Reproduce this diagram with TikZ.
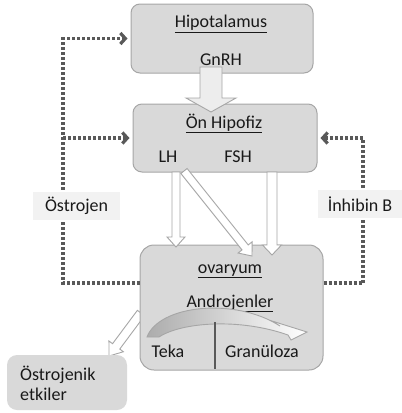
\documentclass[tikz,border=0pt]{standalone}
\usepackage{fontspec}
\setmainfont{Carlito}
\usetikzlibrary{arrows.meta,calc,positioning}

\definecolor{boxgray}{HTML}{D9D9D9}
\definecolor{edgegray}{HTML}{A6A6A6}
\definecolor{dotgray}{HTML}{595959}
\definecolor{labelgray}{HTML}{F2F2F2}
\definecolor{shaftgray}{HTML}{EDEDED}

% block arrow: [style]{from}{to}{half shaft}{half head}{head length}
\newcommand{\fatarrow}[6][]{%
  \coordinate (fa-base) at ($(#3)!#6!(#2)$);
  \draw[fatarr,#1] ($(#2)!#4!90:(#3)$) -- ($(fa-base)!#4!-90:(#2)$)
    -- ($(fa-base)!#5!-90:(#2)$) -- (#3) -- ($(fa-base)!#5!90:(#2)$)
    -- ($(fa-base)!#4!90:(#2)$) -- ($(#2)!#4!-90:(#3)$) -- cycle;
}

\begin{document}
\begin{tikzpicture}[
    x = 1pt, y = -1pt, % pixel grid, y pointing down
    > = {Straight Barb[length=5pt,width=11pt]}, % arrow head style
    shorten > = 3pt, % don't touch arrow head to box
    font = \fontsize{18}{20}\selectfont,
    every node/.style = {text = black!90}
  ]

  \tikzstyle{organ} = [
      draw = edgegray,
      fill = boxgray,
      line width = 1pt,
      rounded corners = 9pt
  ]
  \tikzstyle{lbl} = [
      anchor = base,
      inner sep = 0pt
  ]
  \tikzstyle{fatarr} = [
      draw = edgegray,
      fill = shaftgray,
      line width = 0.9pt,
      line join = miter
  ]
  \tikzstyle{feedback} = [
      draw = dotgray,
      line width = 3.2pt,
      dash pattern = on 3pt off 2pt
  ]
  \tikzstyle{fblabel} = [
      fill = labelgray,
      minimum height = 28pt,
      inner sep = 0pt
  ]

  \useasboundingbox (0,0) rectangle (402,413);

  % boxes
  \node[organ, minimum width=182pt, minimum height=69pt] (hipo) at (222,38.5) {};
  \node[organ, minimum width=184pt, minimum height=68pt] (hipof) at (225,138) {};

  % to the estrogenic effects (behind the ovary)
  \coordinate (ostS) at (141,313);
  \coordinate (ostE) at (109,356);
  \fatarrow[fill=white]{ostS}{ostE}{4.5pt}{9pt}{12pt}

  \node[organ, minimum width=183pt, minimum height=125pt, rounded corners=14pt] (ovar) at (231.5,307.5) {};
  \node[organ, draw=none, minimum width=120pt, minimum height=55pt, rounded corners=10pt] (effect) at (67,382.5) {};

  % texts
  \node[lbl] (hipoT) at (221,27.5) {\underline{Hipotalamus}};
  \node[lbl] (gnrh) at (221,65) {GnRH};
  \node[lbl] (hipofT) at (224,128) {\underline{Ön Hipofiz}};
  \node[lbl] (lh) at (168,162) {LH};
  \node[lbl] (fsh) at (238,162) {FSH};
  \node[lbl] (ovarT) at (230,273) {\underline{ovaryum}};
  \node[lbl] (andr) at (230,307) {\underline{Androjenler}};
  \node[lbl] (teka) at (168,357) {Teka};
  \node[lbl] (gran) at (262,357) {Granüloza};
  \node[anchor=north west, inner sep=0pt, align=left] (effectT) at (20,366) {Östrojenik\\etkiler};

  % hormone arrows
  \coordinate (gnrhS) at (211,67);
  \coordinate (gnrhE) at (211,112);
  \fatarrow{gnrhS}{gnrhE}{11pt}{25pt}{14pt}
  \coordinate (lhS) at (176,172);
  \coordinate (lhE) at (176,247);
  \fatarrow[fill=white]{lhS}{lhE}{4pt}{9pt}{10pt}
  \coordinate (fshS) at (272,172);
  \coordinate (fshE) at (272,255);
  \fatarrow[fill=white]{fshS}{fshE}{5pt}{9.5pt}{10pt}
  \coordinate (lhdS) at (184,171);
  \coordinate (lhdE) at (252,256);
  \fatarrow[fill=white]{lhdS}{lhdE}{4pt}{9pt}{11pt}

  % androgens from theca to granulosa
  \draw[draw=edgegray, line width=0.9pt, left color=gray!65, middle color=gray!45, right color=white]
    (147,337) .. controls (159,305) and (235,297) .. (280,326)
    -- (272,321) -- (307,332) -- (291,340) -- (288,335)
    .. controls (240,318) and (182,322) .. (159,337) -- cycle;
  \draw[draw=dotgray, line width=1.3pt] (215,322) -- (215,372);

  % feedback loops
  \coordinate (lbus) at (63,283);
  \coordinate (rbus) at (363,283);
  \draw[feedback, ->] (lbus -| ovar.west) -- (lbus) |- (hipo.west);
  \draw[feedback, ->] (lbus |- hipof.west) -- (hipof.west);
  \draw[feedback, ->] (rbus -| ovar.east) -- (rbus) |- (hipof.east);
  \node[fblabel, minimum width=87pt] (estr) at (76.5,206) {Östrojen};
  \node[fblabel, minimum width=84pt] (inhb) at (360,204) {İnhibin B};
\end{tikzpicture}
\end{document}
